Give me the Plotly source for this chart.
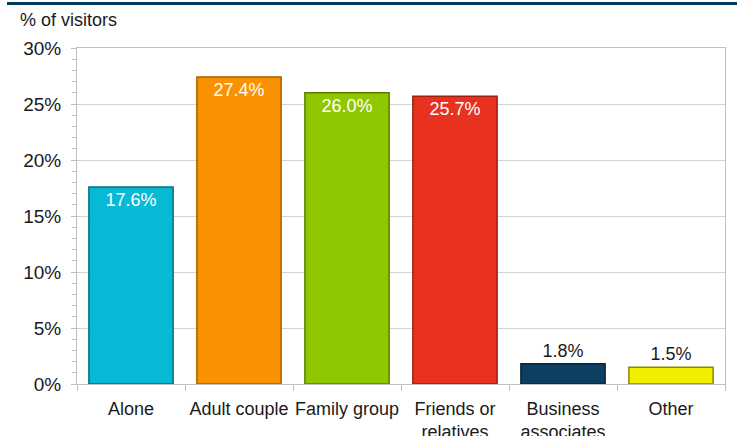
import plotly.graph_objects as go

categories = ["Alone", "Adult couple", "Family group", "Friends or<br>relatives", "Business<br>associates", "Other"]
values = [17.6, 27.4, 26.0, 25.7, 1.8, 1.5]
labels = ["17.6%", "27.4%", "26.0%", "25.7%", "1.8%", "1.5%"]
colors = ["#08B9D5", "#FA9100", "#8FC800", "#E8311F", "#0E3E62", "#F2EE00"]
edge_colors = ["#0A6F80", "#A86000", "#5A7F00", "#992010", "#08263C", "#8C8800"]
text_pos = ["inside", "inside", "inside", "inside", "outside", "outside"]
yticks = [0, 5, 10, 15, 20, 25, 30]
ytick_text = ["0%", "5%", "10%", "15%", "20%", "25%", "30%"]

FONT = "Liberation Sans"

fig = go.Figure(go.Bar(
    x=categories, y=values, text=labels, textposition=text_pos,
    insidetextanchor="end",
    outsidetextfont=dict(family=FONT, size=18, color="#1a1a1a"),
    insidetextfont=dict(family=FONT, size=18, color="white"),
    textangle=0, constraintext="none",
    marker=dict(color=colors, line=dict(color=edge_colors, width=1.5)),
    cliponaxis=False,
))

fig.update_layout(
    width=737, height=436,
    margin=dict(l=77, r=12, t=48, b=52),
    paper_bgcolor="white", plot_bgcolor="white",
    bargap=0.22, showlegend=False,
    font=dict(family=FONT, color="#1a1a1a"),
    xaxis=dict(
        type="category", tickson="boundaries", ticks="outside", ticklen=6,
        tickcolor="#BFBFBF", showline=True, linecolor="#BFBFBF", linewidth=1,
        mirror=True, showgrid=False, ticklabelstandoff=8, tickangle=0, automargin=False,
        tickfont=dict(family=FONT, size=18, color="#1a1a1a"),
    ),
    yaxis=dict(
        range=[0, 30], tickvals=yticks, ticktext=ytick_text, ticks="outside", ticklen=5,
        tickcolor="#BFBFBF", showline=True, linecolor="#BFBFBF", linewidth=1, mirror=True,
        showgrid=True, gridcolor="#D3D3D3", gridwidth=1, zeroline=False, automargin=False,
        ticklabelstandoff=6,
        minor=dict(dtick=1, ticks="outside", ticklen=4, tickcolor="#BFBFBF", showgrid=False),
        tickfont=dict(family=FONT, size=19, color="#1a1a1a"),
    ),
    shapes=[dict(type="rect", xref="paper", yref="paper",
                 x0=(7 - 77) / 648, x1=(737 - 77) / 648,
                 y0=1 + (48 - 5) / 336, y1=1 + (48 - 2) / 336,
                 fillcolor="#003A5C", line=dict(width=0))],
    annotations=[dict(text="% of visitors", xref="paper", yref="paper",
                      x=(18 - 77) / 648, y=1 + (48 - 20) / 336,
                      xanchor="left", yanchor="middle", showarrow=False,
                      font=dict(family=FONT, size=18, color="#1a1a1a"))],
)

fig.write_html("out.html")
